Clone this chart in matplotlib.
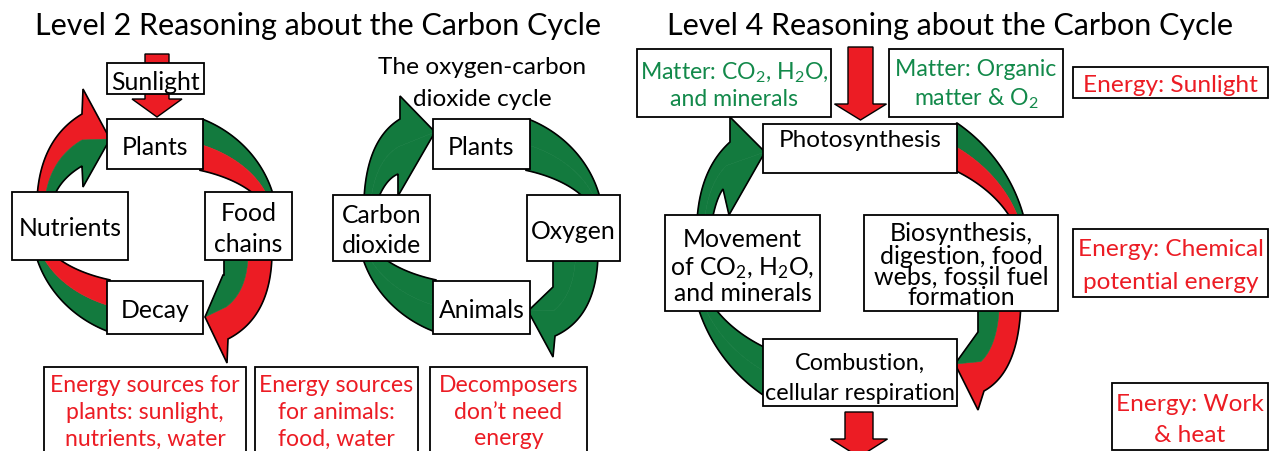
import numpy as np
import matplotlib
matplotlib.use('Agg')
import matplotlib.pyplot as plt
from matplotlib.patches import Rectangle, Polygon

plt.rcParams['font.family'] = ['Lato', 'DejaVu Sans']
plt.rcParams['mathtext.default'] = 'regular'

GREEN = '#137A3E'
RED = '#EC1C24'
TXT_GREEN = '#12894A'

# texts of the diagram
titles = ['Level 2 Reasoning about the Carbon Cycle', 'Level 4 Reasoning about the Carbon Cycle']
cycle2_labels = ['Sunlight', 'Plants', 'Nutrients', ['Food', 'chains'], 'Decay']
cycle_o2_labels = [['The oxygen-carbon', 'dioxide cycle'], 'Plants', ['Carbon', 'dioxide'], 'Oxygen', 'Animals']
energy2_labels = [['Energy sources for', 'plants: sunlight,', 'nutrients, water'],
                  ['Energy sources', 'for animals:', 'food, water'],
                  ['Decomposers', 'don\u2019t need', 'energy']]
matter4_labels = [['Matter: CO$_2$, H$_2$O,', 'and minerals'], ['Matter: Organic', 'matter & O$_2$']]
process4_labels = ['Photosynthesis',
                   ['Movement', 'of CO$_2$, H$_2$O,', 'and minerals'],
                   ['Biosynthesis,', 'digestion, food', 'webs, fossil fuel', 'formation'],
                   ['Combustion,', 'cellular respiration']]
energy4_labels = [['Energy: Sunlight'], ['Energy: Chemical', 'potential energy'], ['Energy: Work', '& heat']]

fig = plt.figure(figsize=(12.75, 4.52), dpi=100)
ax = fig.add_axes([0, 0, 1, 1])
ax.set_xlim(0, 1275)
ax.set_ylim(452, 0)
ax.axis('off')


def qbez(p0, p1, p2, n=40):
    t = np.linspace(0, 1, n)[:, None]
    p0, p1, p2 = np.array(p0), np.array(p1), np.array(p2)
    return (1-t)**2*p0 + 2*(1-t)*t*p1 + t**2*p2


def earc(c, r, a0, a1, n=60):
    a = np.radians(np.linspace(a0, a1, n))
    return np.column_stack([c[0]+r[0]*np.cos(a), c[1]-r[1]*np.sin(a)])


def band(outer, inner, c_out, c_in, head=None, f=0.5):
    split = outer + f*(inner-outer)
    if head is not None:
        ob, tip, ib = [np.array(p, float) for p in head]
        p_out = np.vstack([outer, ob, tip, split[::-1]])
        p_in = np.vstack([split, tip, ib, inner[::-1]])
        p_all = np.vstack([outer, ob, tip, ib, inner[::-1]])
    else:
        p_out = np.vstack([outer, split[::-1]])
        p_in = np.vstack([split, inner[::-1]])
        p_all = np.vstack([outer, inner[::-1]])
    ax.add_patch(Polygon(p_out, closed=True, fc=c_out, ec=c_out, lw=0.4, zorder=1))
    ax.add_patch(Polygon(p_in, closed=True, fc=c_in, ec=c_in, lw=0.4, zorder=1))
    ax.add_patch(Polygon(p_all, closed=True, fc='none', ec='black', lw=1.2, zorder=2))


def ring(c, ro, ri, a0, a1, c_out, c_in):
    band(earc(c, ro, a0, a1), earc(c, ri, a0, a1), c_out, c_in)


def down_arrow(xc, y_top, y_base, y_tip, sw, hw):
    pts = [(xc-sw/2, y_top), (xc+sw/2, y_top), (xc+sw/2, y_base), (xc+hw/2, y_base),
           (xc, y_tip), (xc-hw/2, y_base), (xc-sw/2, y_base)]
    ax.add_patch(Polygon(pts, closed=True, fc=RED, ec='black', lw=1.0, zorder=1))


def box(x0, y0, x1, y1, lw=1.3):
    ax.add_patch(Rectangle((x0, y0), x1-x0, y1-y0, fc='white', ec='black', lw=lw, zorder=3))


def lines(x, ys, strs, color='black', size=17.8):
    if isinstance(strs, str):
        strs = [strs]
    for y, s in zip(ys, strs):
        ax.text(x, y, s, ha='center', va='center_baseline', color=color, fontsize=size, zorder=4)


# ---- Level 2 carbon cycle (red/green) ----
cA, RoA, RiA = (154.5, 226), (123, 115), (116.5, 59.4)
ring(cA, RoA, RiA, 67, 8, GREEN, RED)
band(qbez((272, 255), (271, 318), (228, 340)), qbez((224, 255), (224, 266), (224, 276)),
     RED, GREEN, head=((227, 364), (205, 318), (223, 276)))
ring(cA, RoA, RiA, -112.5, -172, GREEN, RED)
band(qbez((37, 200), (40, 140), (82, 115)), qbez((53, 200), (60, 180), (82, 167)),
     RED, GREEN, head=((83, 90), (110, 140), (83, 188)))
down_arrow(157, 55, 100, 118, 24, 50)

box(107, 64, 204, 95)
lines(155.5, [80], cycle2_labels[0])
box(107, 120, 203, 170)
lines(155, [146], cycle2_labels[1])
box(12, 193, 128, 261)
lines(70, [227], cycle2_labels[2])
box(205, 193, 292, 261)
lines(248.5, [212, 243], cycle2_labels[3])
box(107, 282, 203, 335)
lines(155, [309], cycle2_labels[4])

# ---- oxygen-carbon dioxide cycle (green) ----
cB = (480.5, 226)
ring(cB, RoA, RiA, 67, 8, GREEN, GREEN)
band(qbez((598, 255), (597, 318), (555, 337)), qbez((553, 255), (553, 270), (553, 286)),
     GREEN, GREEN, head=((553, 358), (528, 312), (553, 288)))
ring(cB, RoA, RiA, -112.5, -172, GREEN, GREEN)
band(qbez((364, 200), (367, 140), (400, 120)), qbez((378, 200), (386, 180), (398, 175)),
     GREEN, GREEN, head=((400, 97), (435, 133), (398, 197)))

lines(482, [66, 98], cycle_o2_labels[0], size=17.6)
box(433, 120, 530, 170)
lines(481.5, [146], cycle_o2_labels[1])
box(333, 196, 430, 262)
lines(381.5, [214, 244], cycle_o2_labels[2])
box(527, 196, 620, 262)
lines(573.5, [230], cycle_o2_labels[3])
box(433, 282, 530, 335)
lines(481.5, [309], cycle_o2_labels[4])

for (x0, x1), lab in zip([(44, 246), (255, 418), (430, 587)], energy2_labels):
    box(x0, 368, x1, 470)
    lines((x0+x1)/2, [384, 411, 437], lab, color=RED, size=16.6)

# ---- Level 4 carbon cycle ----
cC, RoC, RiC = (860, 260), (169.3, 165.9), (162.5, 109.1)
ring(cC, RoC, RiC, 55.2, 5, GREEN, RED)
band(qbez((1021, 300), (1020, 372), (984, 392)), qbez((978, 300), (978, 318), (978, 333)),
     RED, GREEN, head=((978, 411), (955, 365), (978, 333)))
ring(cC, RoC, RiC, -125, -175, GREEN, GREEN)
band(qbez((697, 222), (700, 170), (730, 143)), qbez((712, 222), (716, 200), (723, 190)),
     GREEN, GREEN, head=((730, 118), (765, 153), (729, 216)))
down_arrow(860.5, 48, 105, 121, 25, 52)
down_arrow(859, 413, 440, 458, 28, 57)

box(637, 50, 831, 118)
lines(734, [70, 98], matter4_labels[0], color=TXT_GREEN, size=16.6)
box(889, 50, 1063, 118)
lines(976, [68, 96], matter4_labels[1], color=TXT_GREEN, size=16.6)

box(763, 125, 957, 174)
lines(860, [139], process4_labels[0], size=17.5)
box(665, 216, 820, 312)
lines(742.5, [238, 265, 292], process4_labels[1])
box(864, 216, 1058, 312)
lines(961, [232, 254, 275, 296], process4_labels[2], size=18)
box(763, 340, 957, 407)
lines(860, [361, 392], process4_labels[3], size=16.8)

box(1073, 68, 1268, 99)
lines(1170.5, [84], energy4_labels[0], color=RED, size=17.6)
box(1073, 230, 1268, 298)
lines(1170.5, [248, 281], energy4_labels[1], color=RED, size=17.6)
box(1112, 384, 1268, 451)
lines(1190, [403, 434], energy4_labels[2], color=RED, size=17.6)

ax.text(318, 24, titles[0], ha='center', va='center_baseline', fontsize=22, zorder=4)
ax.text(950, 24, titles[1], ha='center', va='center_baseline', fontsize=22, zorder=4)

fig.savefig('out.png', dpi=100)
